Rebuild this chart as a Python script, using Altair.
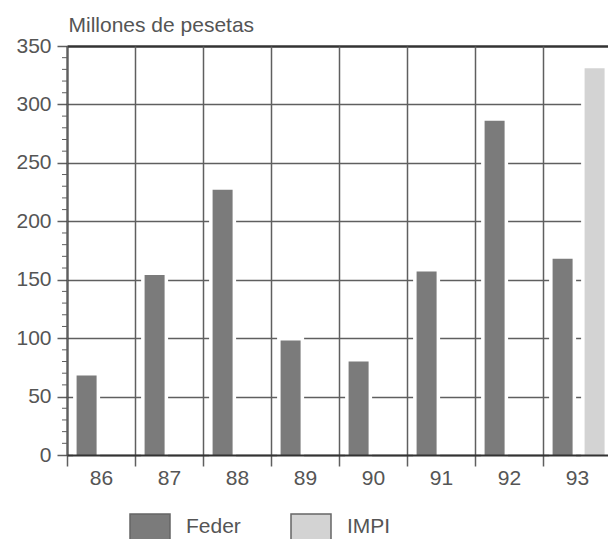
import altair as alt
import pandas as pd

# Annual funding, millions of pesetas
years = ["86", "87", "88", "89", "90", "91", "92", "93"]
feder = [68, 154, 227, 98, 80, 157, 286, 168]
impi_years = ["93"]
impi = [331]

series_names = ["Feder", "IMPI"]
series_colors = ["#7b7b7b", "#d3d3d3"]

y_major = [0, 50, 100, 150, 200, 250, 300, 350]
y_minor = [v for v in range(10, 350, 10) if v % 50 != 0]

rows = [{"year": y, "serie": "Feder", "value": v} for y, v in zip(years, feder)]
rows += [{"year": y, "serie": "IMPI", "value": v} for y, v in zip(impi_years, impi)]
df = pd.DataFrame(rows)
minor_df = pd.DataFrame({"value": y_minor})

FONT = "Liberation Sans"
FS = 21
TEXT = "#555555"
LINE = "#5f5f5f"

x_enc = alt.X(
    "year:N",
    sort=years,
    scale=alt.Scale(domain=years, paddingInner=0, paddingOuter=0, range=[0, 544]),
    axis=alt.Axis(
        title=None,
        labelAngle=0,
        tickBand="extent",
        grid=True,
        gridColor=LINE,
        gridWidth=1.5,
        domainColor="#333333",
        domainWidth=2,
        tickColor=LINE,
        tickWidth=1.5,
        tickSize=11,
        labelPadding=1,
        labelFont=FONT,
        labelFontSize=FS,
        labelColor=TEXT,
        zindex=1,
    ),
)
xoff_enc = alt.XOffset(
    "serie:N",
    sort=series_names,
    scale=alt.Scale(domain=series_names, paddingInner=0.375, paddingOuter=0.25, align=0.6),
)
y_enc = alt.Y(
    "value:Q",
    scale=alt.Scale(domain=[0, 350], nice=False),
    axis=alt.Axis(
        values=y_major,
        title="Millones de pesetas",
        titleAngle=0,
        titleAlign="left",
        titleBaseline="alphabetic",
        titleX=1,
        titleY=-15,
        titleFont=FONT,
        titleFontSize=FS,
        titleFontWeight="normal",
        titleColor=TEXT,
        grid=True,
        gridColor=alt.condition("datum.value == 350", alt.value("#333333"), alt.value(LINE)),
        gridWidth=alt.condition("datum.value == 350", alt.value(2.5), alt.value(1.5)),
        domainColor="#333333",
        domainWidth=2,
        tickColor=LINE,
        tickWidth=1.5,
        tickSize=10,
        labelPadding=6,
        labelFont=FONT,
        labelFontSize=FS,
        labelColor=TEXT,
        zindex=0,
    ),
)

# white halo behind each bar breaks the horizontal grid lines
halo = alt.Chart(df).mark_bar(color="white", stroke="white", strokeWidth=7).encode(
    x=x_enc, xOffset=xoff_enc, y=y_enc
)

bars = alt.Chart(df).mark_bar().encode(
    x=x_enc,
    xOffset=xoff_enc,
    y=y_enc,
    color=alt.Color(
        "serie:N",
        sort=series_names,
        scale=alt.Scale(domain=series_names, range=series_colors),
        legend=alt.Legend(
            title=None,
            orient="none",
            direction="horizontal",
            legendX=62,
            legendY=460,
            padding=0,
            symbolType="M-1,-0.65H1V0.65H-1Z",
            symbolSize=1600,
            symbolStrokeColor="#666666",
            symbolStrokeWidth=1.5,
            symbolOpacity=1,
            labelOffset=15,
            labelFont=FONT,
            labelFontSize=FS,
            labelColor=TEXT,
            columnPadding=47,
        ),
    ),
)

# minor ticks every 10 units along the value axis
minor = alt.Chart(minor_df).mark_rule(color=LINE, strokeWidth=1).encode(
    y=y_enc,
    x=alt.value(-5),
    x2=alt.value(0),
)

chart = (
    alt.layer(halo, bars, minor)
    .properties(
        width=541,
        height=409,
        autosize=alt.AutoSizeParams(type="none"),
        padding={"left": 67, "top": 46, "right": 0, "bottom": 84},
    )
    .configure_view(stroke=None)
    .configure(background="white")
)

chart.save("out.html", embed_options={"renderer": "svg", "actions": False})
